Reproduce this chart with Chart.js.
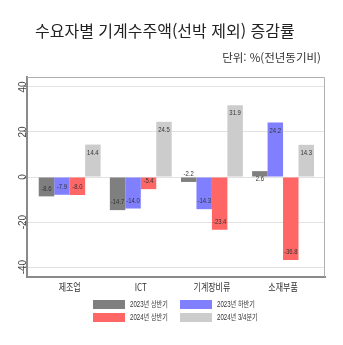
<!DOCTYPE html>
<html lang="ko">
<head>
<meta charset="utf-8">
<script src="https://cdn.jsdelivr.net/npm/chart.js@4.4.1/dist/chart.umd.min.js"></script>
<style>
    body { margin: 0; background: #fff; }
    #wrap { position: relative; width: 343px; height: 345px; overflow: hidden; font-family: "Liberation Sans", "Noto Sans CJK KR", sans-serif; }
    #cnv { position: absolute; left: 0; top: 0; }
    #title { position: absolute; left: 35px; top: 18px; font-size: 16px; color: #222; white-space: nowrap; font-family: "Noto Sans CJK KR", sans-serif; }
    #unit { position: absolute; right: 22px; top: 49px; font-size: 11.5px; color: #333; white-space: nowrap; font-family: "Noto Sans CJK KR", sans-serif; }
    .lg { position: absolute; height: 9px; width: 32px; }
    .lgt { position: absolute; font-size: 8.5px; line-height: 9px; color: #333; white-space: nowrap; transform: scaleX(0.72); transform-origin: left center; }
</style>
</head>
<body>
<div id="wrap">
    <canvas id="cnv" width="343" height="345"></canvas>
    <div id="title">수요자별 기계수주액(선박 제외) 증감률</div>
    <div id="unit">단위: %(전년동기비)</div>
    <div id="legend"></div>
</div>
<script>
"use strict";

const categories = ["제조업", "ICT", "기계장비류", "소재부품"];
const seriesNames = ["2023년 상반기", "2023년 하반기", "2024년 상반기", "2024년 3/4분기"];
const h1_2023 = [-8.6, -14.7, -2.2, 2.6];
const h2_2023 = [-7.9, -14.0, -14.3, 24.2];
const h1_2024 = [-8.0, -5.4, -23.4, -36.8];
const q3_2024 = [14.4, 24.5, 31.9, 14.3];
const yTicks = [-40, -20, 0, 20, 40];

const colors = ["#7f7f7f", "#8080ff", "#ff6666", "#cccccc"];
const allSeries = [h1_2023, h2_2023, h1_2024, q3_2024];

//DATASETS
let datasets = [];
for (let i = 0; i < allSeries.length; i++) {
    datasets.push({
        label: seriesNames[i],
        data: allSeries[i].map(function (v, j) { return { x: j, y: v }; }),
        backgroundColor: colors[i],
        borderWidth: 0,
        categoryPercentage: 0.87,
        barPercentage: 1.0
    });
}

//LEGEND (2 x 2)
let legendPos = [[93, 300], [180, 300], [93, 313], [180, 313]];
let _legend = document.getElementById("legend");
for (let i = 0; i < seriesNames.length; i++) {
    let box = document.createElement("div");
    box.className = "lg";
    box.style.left = legendPos[i][0] + "px";
    box.style.top = legendPos[i][1] + "px";
    box.style.background = colors[i];
    _legend.appendChild(box);
    let txt = document.createElement("div");
    txt.className = "lgt";
    txt.style.left = (legendPos[i][0] + 37) + "px";
    txt.style.top = legendPos[i][1] + "px";
    txt.textContent = seriesNames[i];
    _legend.appendChild(txt);
}

//PLUGIN: frame, x labels, value labels
const extras = {
    id: "extras",
    beforeDatasetsDraw: function (chart) {
        let ctx = chart.ctx, a = chart.chartArea;
        ctx.save();
        ctx.strokeStyle = "#b0b0b0";
        ctx.lineWidth = 1;
        ctx.beginPath();
        ctx.moveTo(a.left, a.top + 0.5);
        ctx.lineTo(a.right - 0.5, a.top + 0.5);
        ctx.lineTo(a.right - 0.5, a.bottom);
        ctx.stroke();
        ctx.restore();
    },
    afterDatasetsDraw: function (chart) {
        let ctx = chart.ctx;
        let xs = chart.scales.x;
        ctx.save();
        ctx.textAlign = "center";
        ctx.textBaseline = "middle";
        // category labels
        ctx.fillStyle = "#333";
        ctx.font = '10px "Noto Sans CJK KR", sans-serif';
        for (let j = 0; j < categories.length; j++) {
            ctx.save();
            ctx.translate(xs.getPixelForValue(j), 287);
            ctx.scale(0.8, 1);
            ctx.fillText(categories[j], 0, 0);
            ctx.restore();
        }
        // value labels
        ctx.fillStyle = "#333";
        ctx.font = '8px "Liberation Sans", sans-serif';
        chart.data.datasets.forEach(function (ds, i) {
            let meta = chart.getDatasetMeta(i);
            meta.data.forEach(function (bar, j) {
                let v = ds.data[j].y;
                let y = v < 0 ? bar.y - 8 : bar.y + 8;
                ctx.save();
                ctx.translate(bar.x, y);
                ctx.scale(0.74, 1);
                ctx.fillText(v.toFixed(1), 0, 0);
                ctx.restore();
            });
        });
        ctx.restore();
    }
};

let chart = new Chart(document.getElementById("cnv"), {
    type: "bar",
    data: { datasets: datasets },
    options: {
        responsive: false,
        animation: false,
        devicePixelRatio: 1,
        layout: { padding: { top: 77, right: 18, bottom: 48, left: 0 } },
        plugins: { legend: { display: false }, tooltip: { enabled: false } },
        scales: {
            x: {
                type: "linear",
                min: -0.6,
                max: 3.59,
                offset: false,
                grid: { display: false },
                border: { display: true, color: "#8a8a8a", width: 2 },
                ticks: { display: false },
                afterBuildTicks: function (scale) {
                    scale.ticks = categories.map(function (c, j) { return { value: j }; });
                },
                afterFit: function (scale) { scale.height = 20; }
            },
            y: {
                min: -44.4,
                max: 44.4,
                grid: { color: "#e2e2e2", tickColor: "#8a8a8a", tickLength: 3 },
                border: { display: true, color: "#8a8a8a", width: 2 },
                ticks: {
                    minRotation: 90,
                    maxRotation: 90,
                    crossAlign: "center",
                    padding: -6,
                    color: "#444",
                    font: { family: "Liberation Sans", size: 10 }
                },
                afterBuildTicks: function (scale) {
                    scale.ticks = yTicks.map(function (v) { return { value: v }; });
                },
                afterFit: function (scale) { scale.width = 27; }
            }
        }
    },
    plugins: [extras]
});
</script>
</body>
</html>
